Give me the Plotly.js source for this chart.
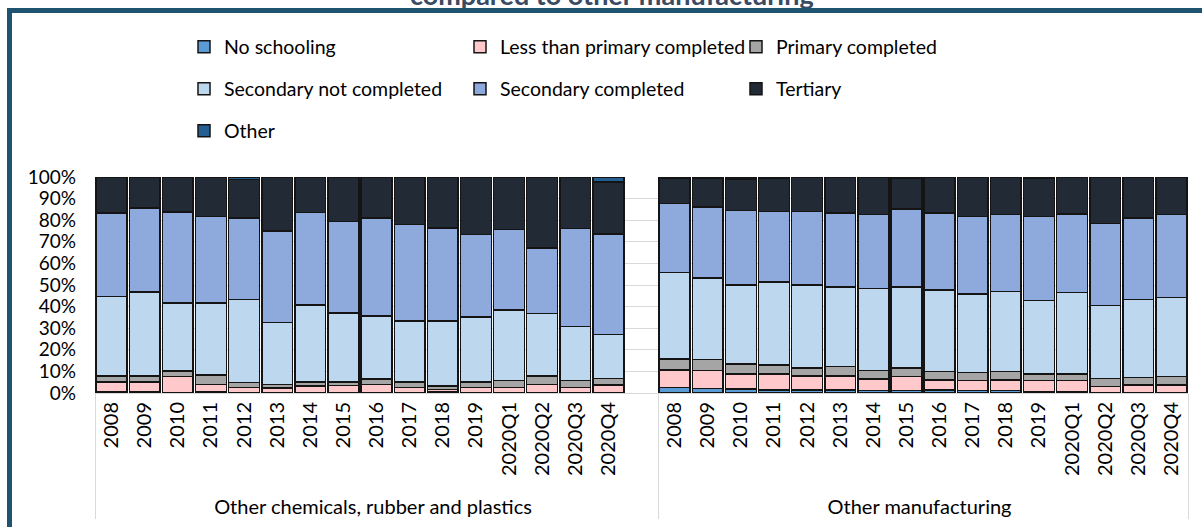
<!DOCTYPE html>
<html>
<head>
<meta charset="utf-8">
<script src="https://cdn.plot.ly/plotly-3.0.1.min.js"></script>
<style>
  html, body { margin: 0; padding: 0; width: 1202px; height: 527px; overflow: hidden; background: #fff; }
  #chart { position: absolute; left: 0; top: 0; width: 1202px; height: 527px; }
  #frame { position: absolute; left: 7px; top: 8px; width: 1400px; height: 800px;
           border: 5px solid #1F5470; pointer-events: none; }
</style>
</head>
<body>
<div id="chart"></div>
<div id="frame"></div>
<script>
// ---- data (percent shares) ----
const groups = ["Other chemicals, rubber and plastics", "Other manufacturing"];
const periods = ["2008","2009","2010","2011","2012","2013","2014","2015","2016","2017","2018","2019","2020Q1","2020Q2","2020Q3","2020Q4"];
const seriesNames = ["No schooling","Less than primary completed","Primary completed","Secondary not completed","Secondary completed","Tertiary","Other"];
const seriesColors = ["#5B9BD5","#FFC9CC","#A5A5A5","#BDD7EE","#8EA9DB","#222A35","#255E91"];

// Other chemicals, rubber and plastics
const chemNoSchooling  = [0.4,0.4,0,0.8,0,0,0.3,0.3,0,0,0.5,0,0,0,0,0];
const chemLessPrimary  = [4.8,4.8,7.6,3.2,2.6,2.3,2.9,3.1,4.0,2.5,1.2,2.5,2.6,4.0,2.6,3.7];
const chemPrimary      = [2.7,2.7,2.6,4.4,2.2,1.7,2.0,1.6,2.4,2.7,1.5,2.7,3.1,3.9,3.1,3.1];
const chemSecNot       = [36.8,38.8,31.4,33.2,38.5,28.6,35.6,32.0,29.3,28.2,30.2,29.9,32.8,28.8,25.1,20.4];
const chemSecComp      = [38.7,39.0,42.2,40.1,37.8,42.3,42.7,42.5,45.4,44.6,43.0,38.2,37.1,30.4,45.3,46.4];
const chemTertiary     = [16.6,14.3,16.2,18.3,17.7,25.1,16.5,20.5,18.9,22.0,23.6,26.7,24.4,32.9,23.9,24.1];
const chemOther        = [0,0,0,0,1.2,0,0,0,0,0,0,0,0,0,0,2.3];

// Other manufacturing
const manNoSchooling   = [2.6,2.2,1.9,1.4,1.4,1.4,1.1,1.1,1.4,1.1,1.1,0.5,0.5,0.2,0.2,0.2];
const manLessPrimary   = [8.1,8.2,6.9,7.4,6.5,6.5,5.4,6.5,4.6,4.6,4.9,5.2,5.2,2.7,3.5,3.5];
const manPrimary       = [5.1,5.1,4.7,4.2,3.6,4.3,3.9,3.9,3.9,3.7,3.9,3.1,3.1,3.9,3.4,3.9];
const manSecNot        = [40.0,37.7,36.6,38.5,38.6,36.8,37.9,37.5,37.9,36.5,37.0,34.0,37.7,33.6,36.1,36.6];
const manSecComp       = [31.9,33.0,34.5,32.5,33.9,34.4,34.3,36.2,35.6,35.9,35.7,39.0,36.4,38.0,37.9,38.4];
const manTertiary      = [11.8,13.4,14.4,15.5,15.7,16.3,17.1,14.3,16.3,17.9,17.1,17.7,16.8,21.6,18.9,17.4];
const manOther         = [0.5,0.4,1.0,0.5,0.3,0.3,0.3,0.5,0.3,0.3,0.3,0.5,0.3,0,0,0];

const chemSeries = [chemNoSchooling, chemLessPrimary, chemPrimary, chemSecNot, chemSecComp, chemTertiary, chemOther];
const manSeries  = [manNoSchooling, manLessPrimary, manPrimary, manSecNot, manSecComp, manTertiary, manOther];
const legendOf   = ["legend","legend","legend","legend2","legend2","legend2","legend3"];

// multicategory x: group 1 gets a trailing blank slot (as in the source chart)
const xOuter = [], xInner = [];
periods.forEach(p => { xOuter.push(groups[0]); xInner.push(p); });
xOuter.push(groups[0]); xInner.push(" ");
periods.forEach(p => { xOuter.push(groups[1]); xInner.push(p); });

const nz = v => (v > 0 ? v : null);
const traces = seriesNames.map((name, i) => ({
  type: "bar",
  name: name,
  x: [xOuter, xInner],
  y: chemSeries[i].map(nz).concat([null]).concat(manSeries[i].map(nz)),
  marker: { color: seriesColors[i], line: { color: "#141414", width: 1.5 } },
  legend: legendOf[i],
  hoverinfo: "name+y"
}));

const FONT = "Lato, 'Open Sans', sans-serif";
const legendBase = {
  orientation: "h", xref: "container", yref: "container",
  xanchor: "left", yanchor: "middle",
  entrywidth: 231, entrywidthmode: "pixels",
  font: { family: FONT, size: 19.5, color: "#000" },
  traceorder: "normal", bgcolor: "rgba(0,0,0,0)", itemclick: false
};

const layout = {
  width: 1202, height: 527,
  paper_bgcolor: "#fff", plot_bgcolor: "#fff",
  margin: { l: 95, r: 14, t: 177, b: 134, pad: 0 },
  font: { family: FONT, size: 20, color: "#000" },
  title: {
    text: "<b>compared to other manufacturing</b>",
    font: { family: FONT, size: 27, color: "#3A4A63" },
    xref: "container", x: 0.509, xanchor: "center",
    yref: "container", y: 1, yanchor: "top",
    pad: { t: -14 }
  },
  barmode: "stack",
  bargap: 0.07,
  showlegend: true,
  legend:  Object.assign({}, legendBase, { x: 184/1202, y: 1 - 47/527 }),
  legend2: Object.assign({}, legendBase, { x: 184/1202, y: 1 - 89/527 }),
  legend3: Object.assign({}, legendBase, { x: 184/1202, y: 1 - 131/527 }),
  xaxis: {
    type: "multicategory",
    tickangle: -90,
    showline: true, linecolor: "#D9D9D9", linewidth: 1,
    showdividers: true, dividercolor: "#D9D9D9", dividerwidth: 1,
    ticks: "", showgrid: false,
    tickfont: { family: FONT, size: 20, color: "#000" }
  },
  yaxis: {
    range: [0, 100], dtick: 10, ticksuffix: "%",
    showgrid: true, gridcolor: "#D9D9D9", gridwidth: 1,
    zeroline: false, showline: false, ticks: "",
    ticklabelstandoff: 18,
    tickfont: { family: FONT, size: 19, color: "#000" }
  }
};

Plotly.newPlot("chart", traces, layout, { displayModeBar: false, staticPlot: true });
</script>
</body>
</html>
